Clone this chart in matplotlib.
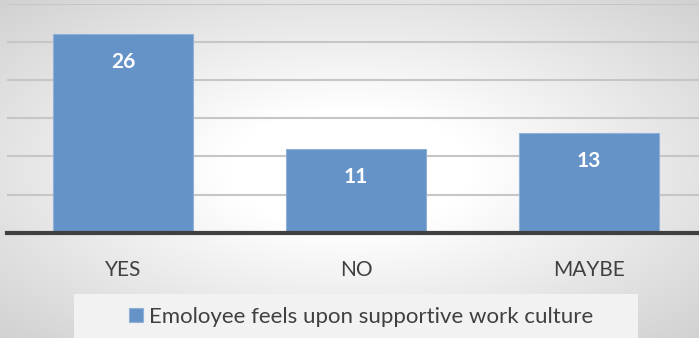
import numpy as np
import matplotlib
matplotlib.use("Agg")
import matplotlib.pyplot as plt
import matplotlib.patches as mpatches

categories = ["YES", "NO", "MAYBE"]
values = [26, 11, 13]
series_name = "Emoloyee feels upon supportive work culture"

plt.rcParams['font.family'] = ['Lato', 'DejaVu Sans']

W, H = 699, 338
fig = plt.figure(figsize=(W / 100, H / 100), dpi=100)

# radial background, white centre going grey to the corners
bg = fig.add_axes([0, 0, 1, 1], zorder=0)
yy, xx = np.mgrid[0:H, 0:W]
r = np.sqrt(((xx - W * 0.5) / (W * 0.5)) ** 2 + ((yy - H * 0.5) / (H * 0.5)) ** 2) / np.sqrt(2)
shade = 1 - 0.18 * np.clip((r - 0.25) / 0.75, 0, 1)
bg.imshow(np.dstack([shade, shade, shade]), extent=[0, 1, 0, 1], aspect='auto', origin='upper')
bg.set_axis_off()

# legend box
fig.patches.append(mpatches.Rectangle((74 / W, 0), (638 - 74) / W, (338 - 294) / H,
                                      transform=fig.transFigure, facecolor='#f2f2f2',
                                      edgecolor='none', zorder=1))

ax = fig.add_axes([6.5 / W, (H - 232.8) / H, 699 / W, (232.8 - 3.6) / H], zorder=2)
ax.patch.set_alpha(0)

x = np.arange(len(categories))
bars = ax.bar(x, values, width=0.6, color='#6592c7', edgecolor='#8fb0d9', linewidth=0.8,
              zorder=3, label=series_name)

for b, v in zip(bars, values):
    ax.annotate(str(v), (b.get_x() + b.get_width() / 2, v), xytext=(0, -20),
                textcoords='offset points', ha='center', va='center',
                color='white', fontsize=15, fontweight='bold', zorder=4)

ax.set_xlim(-0.5, 2.5)
ax.set_ylim(0, 30)
ax.set_yticks([5, 10, 15, 20, 25, 30])
ax.yaxis.grid(True, color='#c6c6c6', linewidth=1.5, zorder=0)
ax.set_axisbelow(True)
ax.tick_params(axis='y', left=False, labelleft=False)
ax.set_xticks(x)
ax.set_xticklabels(categories, fontsize=15, color='#404040')
ax.tick_params(axis='x', bottom=False, pad=16)
for s in ['top', 'right', 'left']:
    ax.spines[s].set_visible(False)
ax.spines['bottom'].set_color('#404040')
ax.spines['bottom'].set_linewidth(3)
ax.spines['bottom'].set_zorder(5)

leg = fig.legend(handles=[bars], labels=[series_name], loc='center',
                 bbox_to_anchor=(0.517, 0.062), frameon=False, fontsize=16,
                 handlelength=0.6, handleheight=0.6, handletextpad=0.3, labelcolor='#404040')
leg.set_zorder(6)

fig.savefig("out.png", dpi=100)
